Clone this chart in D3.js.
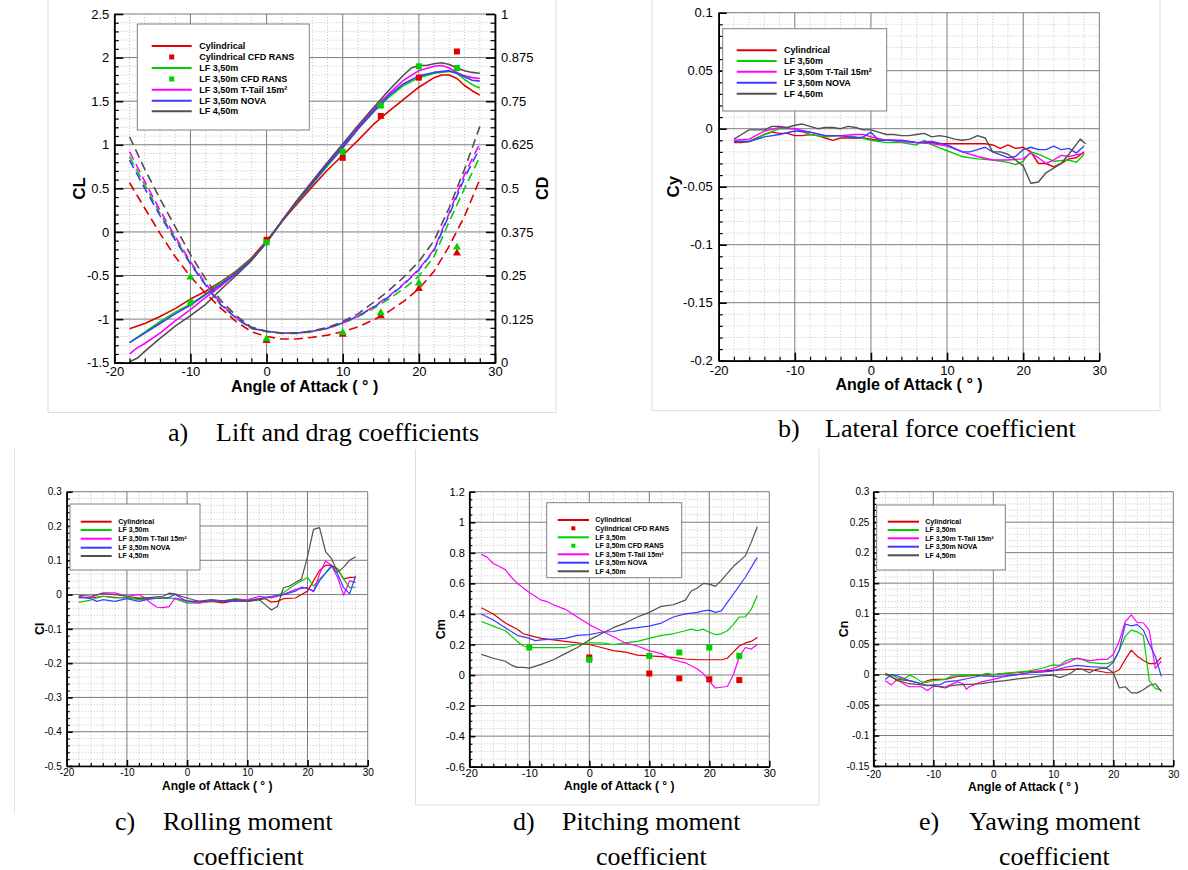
<!DOCTYPE html>
<html><head><meta charset="utf-8">
<script src="https://cdn.jsdelivr.net/npm/d3@7"></script>
<style>
body{margin:0;background:#fff;}
svg text{font-family:"Liberation Sans",Arial,sans-serif;}
text.cap{font-family:"Liberation Serif","Times New Roman",serif;font-size:26px;}
</style></head><body>
<svg id="fig" width="1188" height="870"></svg>
<script>
// ---- data (angle of attack in degrees, coefficient) ----
const aoaTicks = [-20,-10,0,10,20,30];
const clTicks = [-1.5,-1,-0.5,0,0.5,1,1.5,2,2.5];
const cdTicks = [0,0.125,0.25,0.375,0.5,0.625,0.75,0.875,1];
const cyTicks = [-0.2,-0.15,-0.1,-0.05,0,0.05,0.1];
const clRollTicks = [-0.5,-0.4,-0.3,-0.2,-0.1,0,0.1,0.2,0.3];
const cmTicks = [-0.6,-0.4,-0.2,0,0.2,0.4,0.6,0.8,1,1.2];
const cnTicks = [-0.15,-0.1,-0.05,0,0.05,0.1,0.15,0.2,0.25,0.3];

const seriesNames = ["Cylindrical","LF 3,50m","LF 3,50m T-Tail 15m²","LF 3,50m NOVA","LF 4,50m"];
const seriesColors = ["#e00000","#00d000","#ff00ff","#3c3cff","#505050"];

// lift coefficient
const clCyl = [[-18,-1.11],[-16,-1.05],[-14,-0.97],[-12,-0.88],[-10,-0.77],[-8,-0.68],[-6,-0.57],[-4,-0.45],[-2,-0.30],[0,-0.10],[2,0.12],[4,0.32],[6,0.52],[8,0.71],[10,0.88],[12,1.05],[14,1.23],[16,1.38],[18,1.52],[20,1.66],[22,1.77],[23,1.80],[24,1.80],[25,1.76],[26,1.68],[27,1.62],[28,1.57]];
const clLf350 = [[-18,-1.27],[-16,-1.15],[-14,-1.03],[-12,-0.92],[-10,-0.83],[-8,-0.71],[-6,-0.58],[-4,-0.46],[-2,-0.31],[0,-0.12],[2,0.12],[4,0.34],[6,0.55],[8,0.76],[10,0.96],[12,1.18],[14,1.37],[16,1.54],[18,1.68],[20,1.77],[22,1.82],[24,1.84],[25,1.82],[26,1.75],[27,1.69],[28,1.65]];
const clTtail = [[-18,-1.40],[-17,-1.33],[-16,-1.28],[-14,-1.16],[-12,-1.02],[-10,-0.89],[-8,-0.75],[-6,-0.62],[-4,-0.48],[-2,-0.32],[0,-0.12],[2,0.13],[4,0.36],[6,0.58],[8,0.79],[10,0.99],[12,1.20],[14,1.40],[16,1.58],[18,1.74],[20,1.85],[22,1.90],[23,1.91],[24,1.88],[25,1.83],[26,1.79],[27,1.77],[28,1.76]];
const clNova = [[-18,-1.27],[-16,-1.16],[-14,-1.05],[-12,-0.94],[-10,-0.84],[-8,-0.72],[-6,-0.60],[-4,-0.47],[-2,-0.32],[0,-0.12],[2,0.12],[4,0.35],[6,0.56],[8,0.77],[10,0.97],[12,1.18],[14,1.38],[16,1.56],[18,1.70],[20,1.79],[22,1.83],[24,1.85],[25,1.82],[26,1.78],[27,1.74],[28,1.73]];
const clLf450 = [[-18,-1.49],[-17,-1.45],[-16,-1.37],[-14,-1.22],[-12,-1.08],[-10,-0.96],[-8,-0.83],[-6,-0.66],[-4,-0.50],[-2,-0.33],[0,-0.12],[2,0.12],[4,0.36],[6,0.58],[8,0.80],[10,1.01],[12,1.22],[14,1.42],[16,1.62],[18,1.80],[19,1.88],[20,1.91],[21,1.91],[22,1.93],[23,1.94],[24,1.92],[25,1.88],[26,1.85],[27,1.83],[28,1.82]];
const clCfdCyl = [[0,-0.09],[10,0.85],[15,1.33],[20,1.77],[25,2.07]];
const clCfdLf350 = [[-10,-0.81],[0,-0.12],[10,0.92],[15,1.45],[20,1.90],[25,1.88]];

// drag coefficient
const cdCyl = [[-18,0.516],[-16,0.443],[-14,0.371],[-12,0.304],[-10,0.247],[-8,0.199],[-6,0.156],[-4,0.118],[-2,0.089],[0,0.075],[2,0.068],[4,0.068],[6,0.073],[8,0.079],[10,0.089],[12,0.103],[14,0.122],[16,0.146],[18,0.176],[20,0.212],[22,0.262],[24,0.335],[26,0.420],[28,0.525]];
const cdLf350 = [[-18,0.591],[-16,0.510],[-14,0.428],[-12,0.357],[-10,0.285],[-8,0.223],[-6,0.165],[-4,0.127],[-2,0.098],[0,0.089],[2,0.084],[4,0.084],[6,0.089],[8,0.098],[10,0.113],[12,0.132],[14,0.155],[16,0.182],[18,0.212],[20,0.248],[22,0.305],[24,0.405],[26,0.500],[28,0.590]];
const cdTtail = [[-18,0.605],[-16,0.520],[-14,0.437],[-12,0.362],[-10,0.290],[-8,0.227],[-6,0.170],[-4,0.130],[-2,0.100],[0,0.090],[2,0.085],[4,0.085],[6,0.090],[8,0.099],[10,0.114],[12,0.134],[14,0.160],[16,0.190],[18,0.226],[20,0.268],[22,0.325],[24,0.430],[26,0.540],[28,0.628]];
const cdNova = [[-18,0.581],[-16,0.500],[-14,0.422],[-12,0.352],[-10,0.283],[-8,0.222],[-6,0.166],[-4,0.128],[-2,0.099],[0,0.090],[2,0.085],[4,0.085],[6,0.090],[8,0.099],[10,0.114],[12,0.134],[14,0.158],[16,0.188],[18,0.224],[20,0.266],[22,0.322],[24,0.425],[26,0.530],[28,0.615]];
const cdLf450 = [[-18,0.648],[-16,0.555],[-14,0.470],[-12,0.390],[-10,0.310],[-8,0.240],[-6,0.178],[-4,0.135],[-2,0.102],[0,0.090],[2,0.085],[4,0.085],[6,0.091],[8,0.101],[10,0.118],[12,0.140],[14,0.172],[16,0.206],[18,0.245],[20,0.290],[22,0.350],[24,0.445],[26,0.555],[28,0.677]];
const cdCfdCyl = [[0,0.063],[10,0.081],[15,0.134],[20,0.212],[25,0.314]];
const cdCfdLf350 = [[-10,0.245],[0,0.068],[10,0.086],[15,0.143],[20,0.228],[25,0.331]];

// lateral force coefficient
const cyCyl = [[-18,-0.012],[-17,-0.012],[-16,-0.011],[-15,-0.008],[-14,-0.005],[-13,-0.003],[-12,-0.004],[-11,-0.004],[-10,-0.006],[-9,-0.006],[-8,-0.005],[-7,-0.006],[-6,-0.008],[-5,-0.010],[-4,-0.008],[-3,-0.008],[-2,-0.008],[-1,-0.008],[0,-0.009],[1,-0.010],[2,-0.010],[3,-0.010],[4,-0.011],[5,-0.011],[6,-0.012],[7,-0.012],[8,-0.012],[9,-0.013],[10,-0.013],[12,-0.013],[14,-0.013],[15,-0.013],[16,-0.014],[17,-0.017],[18,-0.014],[19,-0.017],[20,-0.016],[21,-0.020],[22,-0.030],[23,-0.030],[24,-0.033],[25,-0.030],[26,-0.026],[27,-0.025],[28,-0.020]];
const cyLf350 = [[-18,-0.011],[-16,-0.011],[-14,-0.005],[-12,0.000],[-10,0.000],[-8,-0.005],[-6,-0.007],[-4,-0.006],[-2,-0.007],[0,-0.010],[2,-0.012],[4,-0.012],[6,-0.014],[7,-0.010],[8,-0.014],[10,-0.019],[12,-0.024],[14,-0.026],[16,-0.027],[18,-0.029],[19,-0.031],[20,-0.028],[21,-0.020],[22,-0.022],[24,-0.028],[26,-0.027],[27,-0.029],[28,-0.022]];
const cyTtail = [[-18,-0.010],[-16,-0.009],[-14,-0.002],[-12,0.001],[-10,0.000],[-8,-0.003],[-6,-0.006],[-4,-0.006],[-2,-0.005],[-1,-0.005],[0,-0.007],[2,-0.010],[4,-0.011],[6,-0.012],[8,-0.013],[10,-0.015],[12,-0.020],[14,-0.024],[16,-0.027],[18,-0.027],[20,-0.026],[21,-0.021],[22,-0.025],[23,-0.030],[24,-0.027],[25,-0.023],[26,-0.024],[28,-0.021]];
const cyNova = [[-18,-0.011],[-16,-0.011],[-14,-0.007],[-12,-0.005],[-10,-0.002],[-8,-0.003],[-6,-0.006],[-4,-0.006],[-2,-0.008],[-1,-0.007],[0,-0.003],[1,-0.010],[2,-0.010],[4,-0.010],[6,-0.012],[8,-0.011],[10,-0.014],[12,-0.020],[13,-0.020],[14,-0.018],[15,-0.016],[16,-0.020],[18,-0.025],[19,-0.024],[20,-0.018],[21,-0.016],[22,-0.018],[23,-0.018],[24,-0.015],[25,-0.018],[26,-0.017],[27,-0.021],[28,-0.015]];
const cyLf450 = [[-18,-0.009],[-17,-0.005],[-16,-0.001],[-15,-0.001],[-14,-0.001],[-13,0.002],[-12,0.002],[-11,0.001],[-10,0.003],[-9,0.004],[-8,0.002],[-7,0.000],[-6,0.001],[-5,0.001],[-4,0.000],[-3,0.002],[-2,0.001],[-1,-0.001],[0,-0.001],[1,-0.003],[2,-0.005],[3,-0.005],[4,-0.006],[5,-0.006],[6,-0.005],[7,-0.004],[8,-0.007],[9,-0.006],[10,-0.007],[11,-0.009],[12,-0.010],[13,-0.009],[14,-0.006],[15,-0.008],[16,-0.020],[17,-0.020],[18,-0.022],[19,-0.027],[20,-0.032],[21,-0.047],[22,-0.046],[23,-0.038],[24,-0.034],[25,-0.030],[26,-0.022],[27.5,-0.009],[28.2,-0.013]];

// rolling moment coefficient
const crCyl = [[-18,-0.008],[-16,-0.010],[-14,-0.005],[-12,-0.008],[-10,-0.010],[-8,-0.012],[-6,-0.012],[-4,-0.010],[-2,-0.012],[0,-0.018],[2,-0.022],[4,-0.020],[6,-0.024],[8,-0.018],[10,-0.020],[12,-0.015],[13,-0.012],[14,-0.022],[15,-0.020],[16,-0.012],[18,-0.010],[19,0.000],[20,0.010],[21,0.040],[22,0.070],[23,0.085],[24,0.085],[25,0.075],[26,0.045],[27,0.050],[28,0.050]];
const crLf350 = [[-18,-0.023],[-16,-0.016],[-14,-0.005],[-12,-0.010],[-10,-0.008],[-8,-0.015],[-6,-0.012],[-4,-0.010],[-2,-0.012],[0,-0.025],[2,-0.024],[4,-0.020],[6,-0.018],[8,-0.012],[10,-0.016],[12,-0.012],[14,-0.008],[16,0.005],[18,0.030],[20,0.050],[21,0.025],[22,0.045],[24,0.080],[25,0.075],[26,0.045],[27,0.020],[28,0.022]];
const crTtail = [[-18,-0.010],[-16,-0.008],[-14,0.005],[-12,0.005],[-10,-0.005],[-8,0.000],[-7,-0.010],[-6,-0.025],[-5,-0.037],[-4,-0.038],[-3,-0.035],[-2,-0.010],[0,-0.020],[2,-0.025],[4,-0.018],[6,-0.020],[8,-0.015],[10,-0.015],[12,-0.005],[14,-0.010],[16,0.000],[18,0.015],[20,0.020],[21,0.008],[22,0.060],[23,0.098],[24,0.085],[25,0.050],[26,-0.002],[27,0.040],[28,0.035]];
const crNova = [[-18,-0.005],[-16,-0.012],[-15,-0.020],[-14,-0.015],[-12,-0.020],[-10,-0.012],[-8,-0.020],[-6,-0.012],[-4,-0.010],[-3,-0.008],[-2,0.000],[-1,-0.010],[0,-0.020],[2,-0.020],[4,-0.018],[6,-0.020],[8,-0.020],[10,-0.018],[12,-0.012],[14,-0.005],[16,0.000],[18,0.010],[19,0.022],[20,0.018],[21,0.010],[22,0.040],[24,0.085],[25,0.060],[26,0.020],[27,0.002],[28,0.055]];
const crLf450 = [[-18,-0.002],[-16,-0.005],[-14,0.003],[-12,0.000],[-10,-0.005],[-8,-0.010],[-6,-0.008],[-4,-0.005],[-3,0.004],[-2,0.002],[-1,-0.005],[0,-0.010],[1,-0.015],[2,-0.020],[4,-0.015],[6,-0.018],[8,-0.015],[10,-0.020],[12,-0.015],[13,-0.030],[14,-0.045],[15,-0.035],[16,0.020],[17,0.025],[18,0.035],[19,0.045],[20,0.110],[21,0.190],[22,0.195],[23,0.125],[24,0.105],[25,0.065],[26,0.080],[27,0.100],[28,0.110]];

// pitching moment coefficient
const cmCyl = [[-18,0.44],[-16,0.40],[-14,0.34],[-12,0.30],[-11,0.27],[-10,0.26],[-8,0.24],[-6,0.23],[-4,0.22],[-2,0.21],[0,0.20],[2,0.18],[4,0.16],[6,0.15],[8,0.13],[10,0.125],[12,0.12],[14,0.115],[16,0.105],[18,0.10],[20,0.10],[22,0.10],[23,0.11],[24,0.15],[25,0.19],[26,0.21],[27,0.22],[28,0.245]];
const cmLf350 = [[-18,0.35],[-16,0.32],[-14,0.29],[-12,0.22],[-11,0.19],[-10,0.18],[-8,0.18],[-6,0.18],[-4,0.18],[-2,0.20],[0,0.21],[2,0.21],[4,0.20],[6,0.21],[8,0.22],[10,0.24],[12,0.26],[14,0.27],[16,0.29],[17,0.30],[18,0.29],[19,0.30],[20,0.28],[21,0.265],[22,0.27],[23,0.29],[24,0.33],[25,0.38],[26,0.38],[27,0.43],[28,0.52]];
const cmTtail = [[-18,0.79],[-17,0.77],[-16,0.73],[-15,0.71],[-14,0.69],[-13,0.64],[-12,0.60],[-10,0.54],[-8,0.49],[-7,0.48],[-6,0.46],[-4,0.43],[-2,0.38],[0,0.33],[2,0.29],[4,0.25],[6,0.21],[8,0.19],[10,0.16],[12,0.14],[14,0.10],[16,0.08],[18,0.04],[19,0.01],[20,-0.04],[21,-0.085],[22,-0.08],[23,-0.075],[24,0.00],[25,0.12],[26,0.18],[27,0.17],[28,0.20]];
const cmNova = [[-18,0.40],[-16,0.36],[-14,0.31],[-12,0.26],[-10,0.24],[-9,0.225],[-8,0.23],[-6,0.235],[-4,0.24],[-2,0.26],[0,0.265],[2,0.28],[4,0.285],[6,0.30],[8,0.31],[10,0.32],[12,0.34],[14,0.38],[16,0.40],[18,0.41],[19,0.42],[20,0.425],[21,0.41],[22,0.42],[24,0.53],[26,0.64],[28,0.77]];
const cmLf450 = [[-18,0.135],[-16,0.11],[-14,0.09],[-13,0.065],[-12,0.05],[-11,0.05],[-10,0.045],[-8,0.07],[-6,0.10],[-4,0.14],[-2,0.18],[0,0.23],[2,0.27],[4,0.31],[6,0.34],[8,0.38],[10,0.41],[12,0.45],[14,0.46],[16,0.49],[17,0.55],[18,0.57],[19,0.60],[20,0.595],[21,0.58],[22,0.62],[24,0.71],[26,0.78],[27,0.87],[28,0.97]];
const cmCfdCyl = [[0,0.115],[10,0.01],[15,-0.022],[20,-0.028],[25,-0.033]];
const cmCfdLf350 = [[-10,0.18],[0,0.10],[10,0.125],[15,0.148],[20,0.18],[25,0.125]];

// yawing moment coefficient
const cnCyl = [[-18,0.000],[-16,-0.008],[-14,-0.010],[-12,-0.015],[-11,-0.010],[-10,-0.008],[-8,-0.008],[-6,-0.003],[-4,-0.002],[-2,-0.001],[0,0.000],[2,0.002],[4,0.003],[6,0.005],[8,0.006],[10,0.007],[12,0.008],[14,0.009],[16,0.008],[18,0.005],[19,0.003],[20,0.003],[21,0.008],[22,0.025],[23,0.040],[24,0.030],[25,0.023],[26,0.018],[27,0.018],[28,0.028]];
const cnLf350 = [[-18,-0.001],[-17,0.000],[-16,-0.005],[-15,-0.008],[-14,-0.001],[-13,-0.005],[-12,-0.012],[-11,-0.013],[-10,-0.010],[-8,-0.008],[-7,-0.002],[-6,-0.002],[-4,-0.001],[-2,0.000],[-1,0.002],[0,0.000],[2,0.002],[4,0.004],[6,0.006],[8,0.010],[10,0.016],[11,0.015],[12,0.022],[13,0.026],[14,0.026],[15,0.024],[16,0.020],[18,0.018],[19,0.018],[20,0.022],[21,0.040],[22,0.063],[23,0.073],[24,0.070],[25,0.064],[26,-0.010],[27,-0.023],[28,-0.025]];
const cnTtail = [[-18,-0.010],[-17,-0.017],[-16,-0.008],[-15,-0.015],[-14,-0.020],[-12,-0.020],[-11,-0.026],[-10,-0.019],[-8,-0.020],[-6,-0.012],[-5,-0.015],[-4.5,-0.024],[-4,-0.020],[-2,-0.012],[0,-0.008],[2,-0.003],[4,0.000],[6,0.003],[8,0.006],[10,0.010],[12,0.018],[14,0.027],[16,0.023],[18,0.025],[19,0.025],[20,0.033],[21,0.055],[22,0.087],[23,0.098],[24,0.085],[25,0.085],[26,0.072],[27,0.010],[28,0.022]];
const cnNova = [[-18,-0.008],[-17,0.000],[-16,-0.002],[-14,-0.010],[-12,-0.015],[-11,-0.018],[-10,-0.017],[-9,-0.017],[-8,-0.012],[-6,-0.010],[-4,-0.006],[-2,-0.002],[0,-0.003],[2,-0.002],[4,0.000],[6,0.003],[8,0.004],[10,0.006],[12,0.012],[14,0.015],[16,0.013],[18,0.012],[19,0.012],[20,0.020],[21,0.040],[22,0.083],[23,0.080],[24,0.082],[25,0.073],[26,0.050],[27,0.030],[28,-0.003]];
const cnLf450 = [[-18,0.002],[-17,-0.003],[-16,-0.010],[-14,-0.015],[-12,-0.017],[-10,-0.018],[-8,-0.022],[-7,-0.018],[-6,-0.017],[-4,-0.016],[-2,-0.015],[0,-0.012],[2,-0.010],[4,-0.007],[6,-0.005],[8,-0.002],[10,-0.001],[11,-0.005],[12,-0.002],[13,0.003],[14,0.010],[15,0.008],[16,0.003],[17,0.008],[18,0.010],[19,0.010],[20,0.003],[21,-0.022],[22,-0.020],[23,-0.030],[24,-0.030],[25,-0.025],[26,-0.018],[27,-0.015],[28,-0.028]];

// ---- drawing ----
const svg = d3.select("#fig");
svg.append("rect").attr("width",1188).attr("height",870).attr("fill","#fff");

const fmt = v => String(Math.round(v*10000)/10000);
const steps = (a,b,s) => d3.range(0, Math.round((b-a)/s)+1).map(i => a+i*s);
const xTitle = "Angle of Attack ( ° )";

function five(arrs){
  return arrs.map((d,i)=>({name:seriesNames[i],color:seriesColors[i],data:d}));
}

// frames of the sub-figures
svg.append("path").attr("d","M48,0V412.5H556V0").attr("fill","none").attr("stroke","#dedede");
svg.append("path").attr("d","M652,0V410.7H1160V0").attr("fill","none").attr("stroke","#dedede");
svg.append("path").attr("d","M14.5,449V813").attr("fill","none").attr("stroke","#e4e4e4");
svg.append("path").attr("d","M415.5,449V805H819V449").attr("fill","none").attr("stroke","#dedede");

function drawPanel(p){
  const g = svg.append("g");
  const x = d3.scaleLinear().domain([-20,30]).range([p.left,p.right]);
  const y = d3.scaleLinear().domain([p.yTicks[0], p.yTicks[p.yTicks.length-1]]).range([p.bottom,p.top]);
  const isMajor = (arr,v) => arr.some(t => Math.abs(t-v) < 1e-9);
  const xMinor = steps(-20,30,2).filter(v => !isMajor(aoaTicks,v));
  const yMinor = steps(y.domain()[0], y.domain()[1], p.yMinor).filter(v => !isMajor(p.yTicks,v));

  // grids
  g.selectAll(".gxm").data(xMinor).join("line")
    .attr("x1",d=>x(d)).attr("x2",d=>x(d)).attr("y1",p.top).attr("y2",p.bottom)
    .attr("stroke","#c4c4c4").attr("stroke-dasharray","1,2");
  g.selectAll(".gym").data(yMinor).join("line")
    .attr("x1",p.left).attr("x2",p.right).attr("y1",d=>y(d)).attr("y2",d=>y(d))
    .attr("stroke","#c4c4c4").attr("stroke-dasharray","1,2");
  g.selectAll(".gx").data(aoaTicks).join("line")
    .attr("x1",d=>x(d)).attr("x2",d=>x(d)).attr("y1",p.top).attr("y2",p.bottom)
    .attr("stroke","#7c7c7c");
  g.selectAll(".gy").data(p.yTicks).join("line")
    .attr("x1",p.left).attr("x2",p.right).attr("y1",d=>y(d)).attr("y2",d=>y(d))
    .attr("stroke","#7c7c7c");

  // secondary (drag) scale
  let y2 = null;
  if (p.y2Ticks) y2 = d3.scaleLinear().domain([0,1]).range([p.bottom,p.top]);

  const line = sc => d3.line().x(d=>x(d[0])).y(d=>sc(d[1]));
  p.series.forEach(s => {
    g.append("path").datum(s.data).attr("d",line(y))
      .attr("fill","none").attr("stroke",s.color).attr("stroke-width",p.lw).attr("stroke-linejoin","round");
  });
  if (p.series2) p.series2.forEach(s => {
    g.append("path").datum(s.data).attr("d",line(y2))
      .attr("fill","none").attr("stroke",s.color).attr("stroke-width",p.lw).attr("stroke-dasharray","9,5");
  });
  (p.squares||[]).forEach(s => {
    g.selectAll(null).data(s.data).join("rect")
      .attr("x",d=>x(d[0])-3).attr("y",d=>y(d[1])-3).attr("width",6).attr("height",6).attr("fill",s.color);
  });
  (p.triangles||[]).forEach(s => {
    g.selectAll(null).data(s.data).join("path")
      .attr("transform",d=>`translate(${x(d[0])},${y2(d[1])})`)
      .attr("d",d3.symbol(d3.symbolTriangle,28)).attr("fill",s.color);
  });

  // axes with inward ticks
  function styleAxis(a, lw){
    a.select(".domain").attr("stroke","#000").attr("stroke-width",lw);
    a.selectAll(".tick line").attr("stroke","#000").attr("stroke-width",lw);
    a.selectAll("text").attr("font-size",p.fs).attr("fill","#000");
  }
  const left = g.append("g").attr("transform",`translate(${p.left},0)`)
    .call(d3.axisLeft(y).tickValues(yMinor).tickSize(-p.tick/2).tickSizeOuter(0).tickFormat(""));
  styleAxis(left,1.2);
  const leftM = g.append("g").attr("transform",`translate(${p.left},0)`)
    .call(d3.axisLeft(y).tickValues(p.yTicks).tickSize(-p.tick).tickSizeOuter(0).tickPadding(p.padL).tickFormat(fmt));
  styleAxis(leftM,1.6);
  const bot = g.append("g").attr("transform",`translate(0,${p.bottom})`)
    .call(d3.axisBottom(x).tickValues(xMinor).tickSize(-p.tick/2).tickSizeOuter(0).tickFormat(""));
  styleAxis(bot,1.2);
  const botM = g.append("g").attr("transform",`translate(0,${p.bottom})`)
    .call(d3.axisBottom(x).tickValues(aoaTicks).tickSize(-p.tick).tickSizeOuter(0).tickPadding(p.padB).tickFormat(fmt));
  styleAxis(botM,1.6);
  if (y2) {
    const r = g.append("g").attr("transform",`translate(${p.right},0)`)
      .call(d3.axisRight(y2).tickValues(steps(0,1,0.025).filter(v=>!isMajor(p.y2Ticks,v))).tickSize(-p.tick/2).tickSizeOuter(0).tickFormat(""));
    styleAxis(r,1.2);
    const rM = g.append("g").attr("transform",`translate(${p.right},0)`)
      .call(d3.axisRight(y2).tickValues(p.y2Ticks).tickSize(-p.tick).tickSizeOuter(0).tickPadding(6).tickFormat(fmt));
    styleAxis(rM,1.6);
    g.append("text").attr("transform",`translate(548,${(p.top+p.bottom)/2}) rotate(-90)`)
      .attr("text-anchor","middle").attr("font-weight","bold").attr("font-size",p.tfs).text("CD");
  }

  // titles
  g.append("text").attr("x",(p.left+p.right)/2).attr("y",p.xTitleY)
    .attr("text-anchor","middle").attr("font-weight","bold").attr("font-size",p.tfs).text(xTitle);
  g.append("text").attr("transform",`translate(${p.yTitleX},${(p.top+p.bottom)/2}) rotate(-90)`)
    .attr("text-anchor","middle").attr("font-weight","bold").attr("font-size",p.yfs||p.tfs).text(p.yTitle);

  // legend
  const L = p.legend;
  const lg = g.append("g");
  lg.append("rect").attr("x",L.x0).attr("y",L.y0).attr("width",L.x1-L.x0).attr("height",L.y1-L.y0)
    .attr("fill","#fff").attr("stroke","#808080");
  L.items.forEach((it,i) => {
    const yy = L.rows[i];
    if (it.marker) {
      lg.append("rect").attr("x",(L.l0+L.l1)/2-L.ms/2).attr("y",yy-L.ms/2)
        .attr("width",L.ms).attr("height",L.ms).attr("fill",it.color);
    } else {
      lg.append("line").attr("x1",L.l0).attr("x2",L.l1).attr("y1",yy).attr("y2",yy)
        .attr("stroke",it.color).attr("stroke-width",2);
    }
    lg.append("text").attr("x",L.tx).attr("y",yy).attr("dy","0.35em")
      .attr("font-size",L.fs).attr("font-weight","bold").text(it.name);
  });
}

const cfdItems = [
  {name:"Cylindrical",color:seriesColors[0]},
  {name:"Cylindrical CFD RANS",color:seriesColors[0],marker:true},
  {name:"LF 3,50m",color:seriesColors[1]},
  {name:"LF 3,50m CFD RANS",color:seriesColors[1],marker:true},
  {name:"LF 3,50m T-Tail 15m²",color:seriesColors[2]},
  {name:"LF 3,50m NOVA",color:seriesColors[3]},
  {name:"LF 4,50m",color:seriesColors[4]}
];
const plainItems = seriesNames.map((n,i)=>({name:n,color:seriesColors[i]}));

// a) lift and drag
drawPanel({left:114.3,right:495,top:14,bottom:362.7,yTicks:clTicks,yMinor:0.1,y2Ticks:cdTicks,
  fs:13,tfs:16,yfs:17,tick:9,padL:5,padB:4,lw:1.6,xTitleY:391.7,yTitleX:85,yTitle:"CL",
  series:five([clCyl,clLf350,clTtail,clNova,clLf450]),
  series2:five([cdCyl,cdLf350,cdTtail,cdNova,cdLf450]),
  squares:[{color:seriesColors[0],data:clCfdCyl},{color:seriesColors[1],data:clCfdLf350}],
  triangles:[{color:seriesColors[0],data:cdCfdCyl},{color:seriesColors[1],data:cdCfdLf350}],
  legend:{x0:137.3,x1:309.3,y0:24,y1:130,l0:151.7,l1:191.7,tx:199.3,fs:9,ms:5,
    rows:[46,57,68,79,89.7,100.7,111.3],items:cfdItems}});

// b) lateral force
drawPanel({left:718.7,right:1099.3,top:12.7,bottom:360.7,yTicks:cyTicks,yMinor:0.01,
  fs:13,tfs:16,yfs:17,tick:8,padL:6,padB:5,lw:1.4,xTitleY:390,yTitleX:679,yTitle:"Cy",
  series:five([cyCyl,cyLf350,cyTtail,cyNova,cyLf450]),
  legend:{x0:722.7,x1:886.7,y0:28.7,y1:111,l0:736.7,l1:776.7,tx:784,fs:9,ms:5,
    rows:[50.3,61,71.7,82.7,93.7],items:plainItems}});

// c) rolling moment
drawPanel({left:66.7,right:367.7,top:491.7,bottom:766,yTicks:clRollTicks,yMinor:0.02,
  fs:10,tfs:12,yfs:12.5,tick:6,padL:5,padB:3,lw:1.2,xTitleY:789.5,yTitleX:43.5,yTitle:"Cl",
  series:five([crCyl,crLf350,crTtail,crNova,crLf450]),
  legend:{x0:70,x1:200,y0:504,y1:570,l0:80.7,l1:111.7,tx:118.3,fs:7,ms:4,
    rows:[521.7,530,538.7,547.7,556],items:plainItems}});

// d) pitching moment
drawPanel({left:469.3,right:769.3,top:491.7,bottom:766.7,yTicks:cmTicks,yMinor:0.05,
  fs:11,tfs:12,yfs:12.5,tick:6,padL:4.5,padB:2.5,lw:1.2,xTitleY:790,yTitleX:445,yTitle:"Cm",
  series:five([cmCyl,cmLf350,cmTtail,cmNova,cmLf450]),
  squares:[{color:seriesColors[0],data:cmCfdCyl},{color:seriesColors[1],data:cmCfdLf350}],
  legend:{x0:546.7,x1:681.7,y0:502.7,y1:577.7,l0:557.7,l1:589,tx:595.3,fs:7,ms:4,
    rows:[520,528.3,537.3,545.7,554.3,562.7,571.3],items:cfdItems}});

// e) yawing moment
drawPanel({left:873.3,right:1173.3,top:491.7,bottom:766,yTicks:cnTicks,yMinor:0.01,
  fs:10,tfs:12,yfs:12.5,tick:6,padL:4,padB:4.5,lw:1.2,xTitleY:791,yTitleX:848,yTitle:"Cn",
  series:five([cnCyl,cnLf350,cnTtail,cnNova,cnLf450]),
  legend:{x0:876.7,x1:1005.3,y0:505,y1:570,l0:887.7,l1:919,tx:925.3,fs:7,ms:4,
    rows:[521.7,530,538.3,546.7,555.3],items:plainItems}});

// captions
const captions = [
  ["a)",168,441],["Lift and drag coefficients",216,441],
  ["b)",778,437],["Lateral force coefficient",825,437],
  ["c)",115,830],["Rolling moment",163,830],["coefficient",193,865],
  ["d)",513,830],["Pitching moment",562,830],["coefficient",596,865],
  ["e)",919,830],["Yawing moment",969,830],["coefficient",999,865]
];
svg.selectAll("text.cap").data(captions).join("text").attr("class","cap")
  .attr("x",d=>d[1]).attr("y",d=>d[2]).text(d=>d[0]);
</script></body></html>
